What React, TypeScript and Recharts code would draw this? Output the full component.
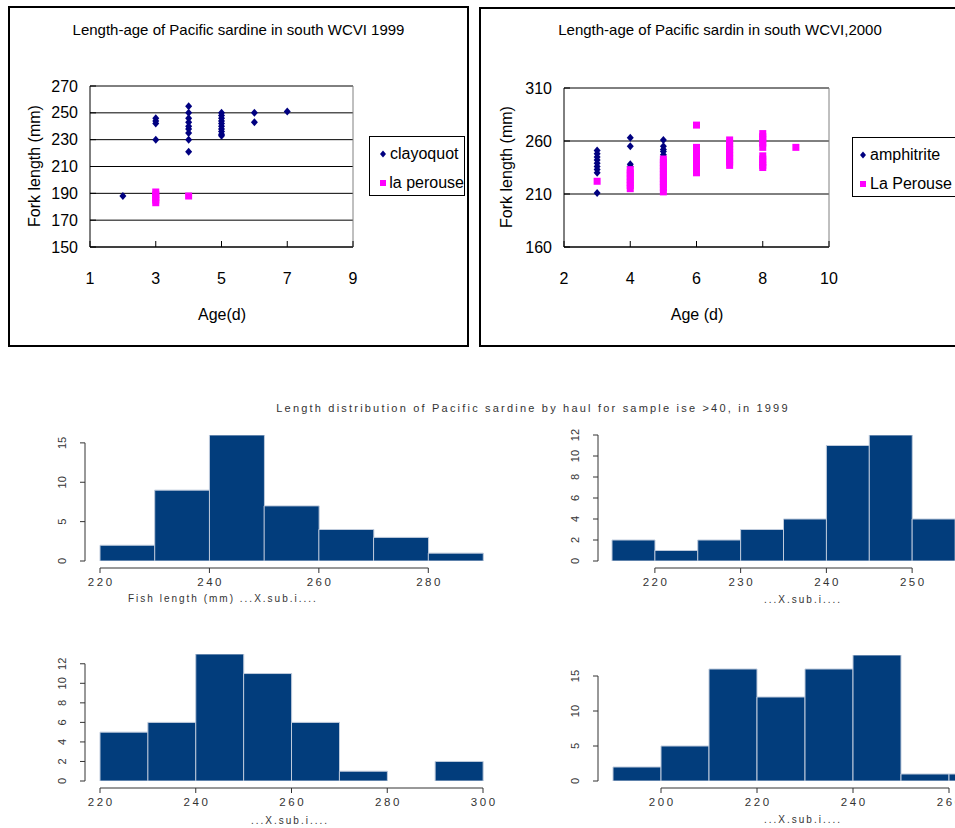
import React from "react";
import {
  Bar,
  BarChart,
  CartesianGrid,
  Legend,
  Scatter,
  ScatterChart,
  XAxis,
  YAxis,
} from "recharts";

// ---- length-age scatter, 1999 (age, fork length mm)
const clayoquot99: [number, number][] = [
  [2, 188],
  [3, 246], [3, 244], [3, 242], [3, 230],
  [4, 255], [4, 250], [4, 246], [4, 243], [4, 240], [4, 238], [4, 235], [4, 230], [4, 221],
  [5, 250], [5, 248], [5, 246], [5, 244], [5, 242], [5, 240], [5, 238], [5, 236], [5, 234], [5, 233],
  [6, 250], [6, 243],
  [7, 251],
];
const laPerouse99: [number, number][] = [
  [3, 191], [3, 189], [3, 187], [3, 185], [3, 183],
  [4, 188],
];
const ageTicks99 = [1, 3, 5, 7, 9];
const lengthTicks99 = [150, 170, 190, 210, 230, 250, 270];

// ---- length-age scatter, 2000
const amphitrite00: [number, number][] = [
  [3, 251], [3, 248], [3, 245], [3, 242], [3, 239], [3, 236], [3, 233], [3, 230], [3, 211],
  [4, 263], [4, 255], [4, 238], [4, 236],
  [5, 261], [5, 255], [5, 252], [5, 250], [5, 247],
  [6, 253],
];
const laPerouse00: [number, number][] = [
  [3, 222],
  [4, 233], [4, 230], [4, 227], [4, 224], [4, 221], [4, 218], [4, 215],
  [5, 243], [5, 240], [5, 237], [5, 234], [5, 231], [5, 228], [5, 225], [5, 222], [5, 219], [5, 216], [5, 212],
  [6, 275], [6, 254], [6, 251], [6, 248], [6, 245], [6, 242], [6, 239], [6, 236], [6, 233], [6, 230],
  [7, 261], [7, 258], [7, 255], [7, 252], [7, 249], [7, 246], [7, 243], [7, 240], [7, 237],
  [8, 267], [8, 264], [8, 261], [8, 258], [8, 254], [8, 246], [8, 243], [8, 240], [8, 237], [8, 235],
  [9, 254],
];
const ageTicks00 = [2, 4, 6, 8, 10];
const lengthTicks00 = [160, 210, 260, 310];

// ---- length histograms by haul, 1999
const hist1Breaks = [220, 230, 240, 250, 260, 270, 280, 290];
const hist1Counts = [2, 9, 16, 7, 4, 3, 1];
const hist1XTicks = [220, 240, 260, 280];
const hist1YTicks = [0, 5, 10, 15];

const hist2Breaks = [215, 220, 225, 230, 235, 240, 245, 250, 255];
const hist2Counts = [2, 1, 2, 3, 4, 11, 12, 4];
const hist2XTicks = [220, 230, 240, 250];
const hist2YTicks = [0, 2, 4, 6, 8, 10, 12];

const hist3Breaks = [220, 230, 240, 250, 260, 270, 280, 290, 300];
const hist3Counts = [5, 6, 13, 11, 6, 1, 0, 2];
const hist3XTicks = [220, 240, 260, 280, 300];
const hist3YTicks = [0, 2, 4, 6, 8, 10, 12];

const hist4Breaks = [190, 200, 210, 220, 230, 240, 250, 260, 270];
const hist4Counts = [2, 5, 16, 12, 16, 18, 1, 1];
const hist4XTicks = [200, 220, 240, 260];
const hist4YTicks = [0, 5, 10, 15];

const NAVY = "#000080";
const MAGENTA = "#ff00ff";
const BAR_FILL = "#023d7c";
const R_GREY = "#333";

const toPoints = (pts: [number, number][]) => pts.map(([age, len]) => ({ age, len }));

function Diamond(props: any) {
  const { cx, cy } = props;
  return (
    <polygon
      points={`${cx},${cy - 4} ${cx + 3.5},${cy} ${cx},${cy + 4} ${cx - 3.5},${cy}`}
      fill={NAVY}
    />
  );
}

function Square(props: any) {
  const { cx, cy } = props;
  return <rect x={cx - 3.5} y={cy - 3.5} width={7} height={7} fill={MAGENTA} />;
}

// excel style: tick marks point into the plot
function AgeTick(props: any) {
  const { x, y, payload } = props;
  return (
    <g>
      <line x1={x} x2={x} y1={y} y2={y - 6} stroke="#000" />
      <text x={x} y={y + 31} dy="0.35em" textAnchor="middle" fontSize={16} fill="#000">
        {payload.value}
      </text>
    </g>
  );
}

function LengthTick(props: any) {
  const { x, y, payload } = props;
  return (
    <g>
      <line x1={x} x2={x + 6} y1={y} y2={y} stroke="#000" />
      <text x={x - 12} y={y} dy="0.35em" textAnchor="end" fontSize={16} fill="#000">
        {payload.value}
      </text>
    </g>
  );
}

function LegendBox({ names, width, padLeft }: { names: string[]; width: number; padLeft: number }) {
  return (
    <div
      style={{
        width,
        height: 60,
        border: "1px solid #000",
        background: "#fff",
        boxSizing: "border-box",
        paddingTop: 2,
        fontSize: 16,
        color: "#000",
        whiteSpace: "nowrap",
      }}
    >
      {names.map((n, i) => (
        <div key={n} style={{ height: 29, display: "flex", alignItems: "center", paddingLeft: padLeft }}>
          <svg width={8} height={8} style={{ marginRight: 3 }}>
            {i === 0 ? (
              <polygon points="4,0.5 7,4 4,7.5 1,4" fill={NAVY} />
            ) : (
              <rect x={1} y={1} width={6} height={6} fill={MAGENTA} />
            )}
          </svg>
          <span>{n}</span>
        </div>
      ))}
    </div>
  );
}

interface ScatterPanelProps {
  left: number;
  top: number;
  width: number;
  height: number;
  margin: { top: number; right: number; bottom: number; left: number };
  navy: [number, number][];
  pink: [number, number][];
  names: string[];
  xTicks: number[];
  yTicks: number[];
  legendPos: { left: number; top: number; width: number; padLeft: number };
}

function ScatterPanel(p: ScatterPanelProps) {
  const xDomain = [p.xTicks[0], p.xTicks[p.xTicks.length - 1]];
  const yDomain = [p.yTicks[0], p.yTicks[p.yTicks.length - 1]];
  return (
    <div style={{ position: "absolute", left: p.left, top: p.top }}>
      <ScatterChart width={p.width} height={p.height} margin={p.margin}>
        <CartesianGrid vertical={false} stroke="#000" />
        <XAxis
          dataKey="age"
          type="number"
          domain={xDomain}
          ticks={p.xTicks}
          interval={0}
          height={40}
          tickSize={0}
          tickMargin={0}
          tick={AgeTick}
          axisLine={{ stroke: "#000" }}
        />
        <XAxis
          xAxisId="top"
          orientation="top"
          type="number"
          domain={xDomain}
          height={1}
          tick={false}
          tickLine={false}
          axisLine={{ stroke: "#808080" }}
        />
        <YAxis
          dataKey="len"
          type="number"
          domain={yDomain}
          ticks={p.yTicks}
          interval={0}
          width={50}
          tickSize={0}
          tickMargin={0}
          tick={LengthTick}
          axisLine={{ stroke: "#000" }}
        />
        <YAxis
          yAxisId="right"
          orientation="right"
          type="number"
          domain={yDomain}
          width={1}
          tick={false}
          tickLine={false}
          axisLine={{ stroke: "#808080" }}
        />
        <Scatter data={toPoints(p.navy)} shape={Diamond} isAnimationActive={false} />
        <Scatter data={toPoints(p.pink)} shape={Square} isAnimationActive={false} />
        <Legend
          layout="vertical"
          align="center"
          verticalAlign="middle"
          wrapperStyle={{ left: p.legendPos.left, top: p.legendPos.top, width: p.legendPos.width }}
          content={() => (
            <LegendBox names={p.names} width={p.legendPos.width} padLeft={p.legendPos.padLeft} />
          )}
        />
      </ScatterChart>
    </div>
  );
}

function CountTick(props: any) {
  const { x, y, payload } = props;
  return (
    <text
      x={x}
      y={y}
      transform={`rotate(-90 ${x} ${y})`}
      textAnchor="middle"
      fontSize={11}
      fill={R_GREY}
    >
      {payload.value}
    </text>
  );
}

// one break label, R style: tick mark down, spaced grey digits below
function BreakMark({ x, y, value }: { x: number; y: number; value: number }) {
  return (
    <g>
      <line x1={x} x2={x} y1={y + 1} y2={y + 6} stroke={R_GREY} />
      <text
        x={x + 1.2}
        y={y + 11}
        dy="0.71em"
        textAnchor="middle"
        fontSize={11.5}
        letterSpacing={2.5}
        fill={R_GREY}
      >
        {value}
      </text>
    </g>
  );
}

interface HistProps {
  left: number;
  top: number;
  width: number;
  height: number;
  plotLeft: number;
  plotRight: number;
  plotTop: number;
  plotBottom: number;
  pad: number;
  breaks: number[];
  counts: number[];
  xTicks: number[];
  yTicks: number[];
  yMax: number;
}

function Histogram(h: HistProps) {
  const lo = h.breaks[0];
  const hi = h.breaks[h.breaks.length - 1];
  const bins = h.counts.map((count, i) => ({ lo: h.breaks[i], hi: h.breaks[i + 1], count }));
  const pl = h.plotLeft - h.left;
  const pr = h.plotRight - h.left;
  const pt = h.plotTop - h.top;
  const pb = h.plotBottom - h.top;
  const base = 6;
  const band = (pr - pl - h.pad) / bins.length;
  // R draws its axis lines only between the first and last tick
  const pxX = (pr - pl - h.pad) / (hi - lo);
  const xGap = h.pad + (h.xTicks[0] - lo) * pxX;
  const xDash = (h.xTicks[h.xTicks.length - 1] - h.xTicks[0]) * pxX;
  const pxY = (pb - pt - base) / h.yMax;
  const yGap = (h.yMax - h.yTicks[h.yTicks.length - 1]) * pxY;
  const yDash = h.yTicks[h.yTicks.length - 1] * pxY;

  // category ticks sit mid-bin; the break labels go on the bin edges
  const BinTick = (props: any) => {
    const { x, y, index } = props;
    const b = bins[index];
    if (!b) return <g />;
    const isLast = index === bins.length - 1;
    return (
      <g>
        {h.xTicks.includes(b.lo) && <BreakMark x={x - band / 2} y={y} value={b.lo} />}
        {isLast && h.xTicks.includes(b.hi) && <BreakMark x={x + band / 2} y={y} value={b.hi} />}
      </g>
    );
  };

  return (
    <div style={{ position: "absolute", left: h.left, top: h.top }}>
      <BarChart
        width={h.width}
        height={h.height}
        data={bins}
        barCategoryGap={0}
        barGap={0}
        margin={{ left: pl - 40, right: h.width - pr, top: pt, bottom: h.height - pb - 31 }}
      >
        <XAxis
          dataKey="lo"
          type="category"
          interval={0}
          padding={{ left: h.pad, right: 0 }}
          height={1}
          tickSize={0}
          tickMargin={0}
          tickLine={false}
          tick={BinTick}
          axisLine={false}
        />
        <XAxis
          xAxisId="edge"
          type="number"
          domain={[lo, hi]}
          allowDataOverflow
          padding={{ left: h.pad, right: 0 }}
          height={30}
          tick={false}
          tickLine={false}
          axisLine={{ stroke: R_GREY, strokeDasharray: `0 ${xGap} ${xDash} 3000` }}
        />
        <YAxis
          type="number"
          domain={[0, h.yMax]}
          allowDataOverflow
          ticks={h.yTicks}
          interval={0}
          width={40}
          padding={{ top: 0, bottom: base }}
          tickSize={5}
          tickMargin={14}
          tick={CountTick}
          tickLine={{ stroke: R_GREY }}
          axisLine={{ stroke: R_GREY, strokeDasharray: `0 ${yGap} ${yDash} 3000` }}
        />
        <Bar
          dataKey="count"
          fill={BAR_FILL}
          stroke="#bfcbdc"
          strokeWidth={1}
          isAnimationActive={false}
        />
      </BarChart>
    </div>
  );
}

const rText: React.CSSProperties = {
  position: "absolute",
  color: R_GREY,
  whiteSpace: "nowrap",
  textAlign: "center",
  lineHeight: "14px",
};

function AxisTitle({ text, cx, cy, vertical }: { text: string; cx: number; cy: number; vertical?: boolean }) {
  return (
    <div
      style={{
        position: "absolute",
        left: cx - 100,
        top: cy - 10,
        width: 200,
        height: 20,
        lineHeight: "20px",
        textAlign: "center",
        fontSize: 16,
        color: "#000",
        transform: vertical ? "rotate(-90deg)" : undefined,
      }}
    >
      {text}
    </div>
  );
}

export default function App() {
  return (
    <div
      style={{
        position: "absolute",
        left: 0,
        top: 0,
        width: 955,
        height: 828,
        overflow: "hidden",
        background: "#fff",
        fontFamily: '"Liberation Sans", Arial, sans-serif',
      }}
    >
      <ScatterPanel
        left={8}
        top={6}
        width={461}
        height={341}
        margin={{ top: 79, right: 115, bottom: 60, left: 32 }}
        navy={clayoquot99}
        pink={laPerouse99}
        names={["clayoquot", "la perouse"]}
        xTicks={ageTicks99}
        yTicks={lengthTicks99}
        legendPos={{ left: 361, top: 130, width: 96, padLeft: 9 }}
      />
      <ScatterPanel
        left={480}
        top={7}
        width={520}
        height={340}
        margin={{ top: 80, right: 170, bottom: 60, left: 34 }}
        navy={amphitrite00}
        pink={laPerouse00}
        names={["amphitrite", "La Perouse"]}
        xTicks={ageTicks00}
        yTicks={lengthTicks00}
        legendPos={{ left: 372, top: 130, width: 112, padLeft: 6 }}
      />
      <div style={{ position: "absolute", left: 8, top: 6, width: 461, height: 341, border: "2px solid #000", boxSizing: "border-box", pointerEvents: "none" }} />
      <div style={{ position: "absolute", left: 479, top: 7, width: 520, height: 340, border: "2px solid #000", boxSizing: "border-box", pointerEvents: "none" }} />
      <div style={{ position: "absolute", left: 8, top: 21, width: 461, textAlign: "center", fontSize: 15 }}>
        Length-age of Pacific sardine in south WCVI 1999
      </div>
      <div style={{ position: "absolute", left: 479, top: 21, width: 482, textAlign: "center", fontSize: 15 }}>
        Length-age of Pacific sardin in south WCVI,2000
      </div>
      <AxisTitle text="Fork length (mm)" cx={35} cy={166} vertical />
      <AxisTitle text="Age(d)" cx={222} cy={315} />
      <AxisTitle text="Fork length (mm)" cx={507} cy={167} vertical />
      <AxisTitle text="Age (d)" cx={697} cy={315} />

      <div style={{ ...rText, left: 233, top: 401, width: 600, fontSize: 11, letterSpacing: 2.2 }}>
        Length distribution of Pacific sardine by haul for sample ise &gt;40, in 1999
      </div>
      <Histogram
        left={40} top={420} width={460} height={190}
        plotLeft={85} plotRight={483} plotTop={435} plotBottom={567} pad={15}
        breaks={hist1Breaks} counts={hist1Counts} xTicks={hist1XTicks} yTicks={hist1YTicks} yMax={16}
      />
      <Histogram
        left={540} top={420} width={460} height={190}
        plotLeft={598} plotRight={955} plotTop={435} plotBottom={567} pad={14}
        breaks={hist2Breaks} counts={hist2Counts} xTicks={hist2XTicks} yTicks={hist2YTicks} yMax={12}
      />
      <Histogram
        left={40} top={640} width={460} height={188}
        plotLeft={85} plotRight={483} plotTop={654} plotBottom={787} pad={15}
        breaks={hist3Breaks} counts={hist3Counts} xTicks={hist3XTicks} yTicks={hist3YTicks} yMax={13}
      />
      <Histogram
        left={540} top={640} width={470} height={188}
        plotLeft={598} plotRight={997} plotTop={655} plotBottom={787} pad={15}
        breaks={hist4Breaks} counts={hist4Counts} xTicks={hist4XTicks} yTicks={hist4YTicks} yMax={18}
      />
      <div style={{ ...rText, left: 128, top: 592, fontSize: 10, letterSpacing: 2 }}>
        Fish length (mm) ...X.sub.i....
      </div>
      <div style={{ ...rText, left: 703, top: 593, width: 200, fontSize: 10, letterSpacing: 2 }}>
        ...X.sub.i....
      </div>
      <div style={{ ...rText, left: 190, top: 814, width: 200, fontSize: 10, letterSpacing: 2 }}>
        ...X.sub.i....
      </div>
      <div style={{ ...rText, left: 703, top: 813, width: 200, fontSize: 10, letterSpacing: 2 }}>
        ...X.sub.i....
      </div>
    </div>
  );
}
